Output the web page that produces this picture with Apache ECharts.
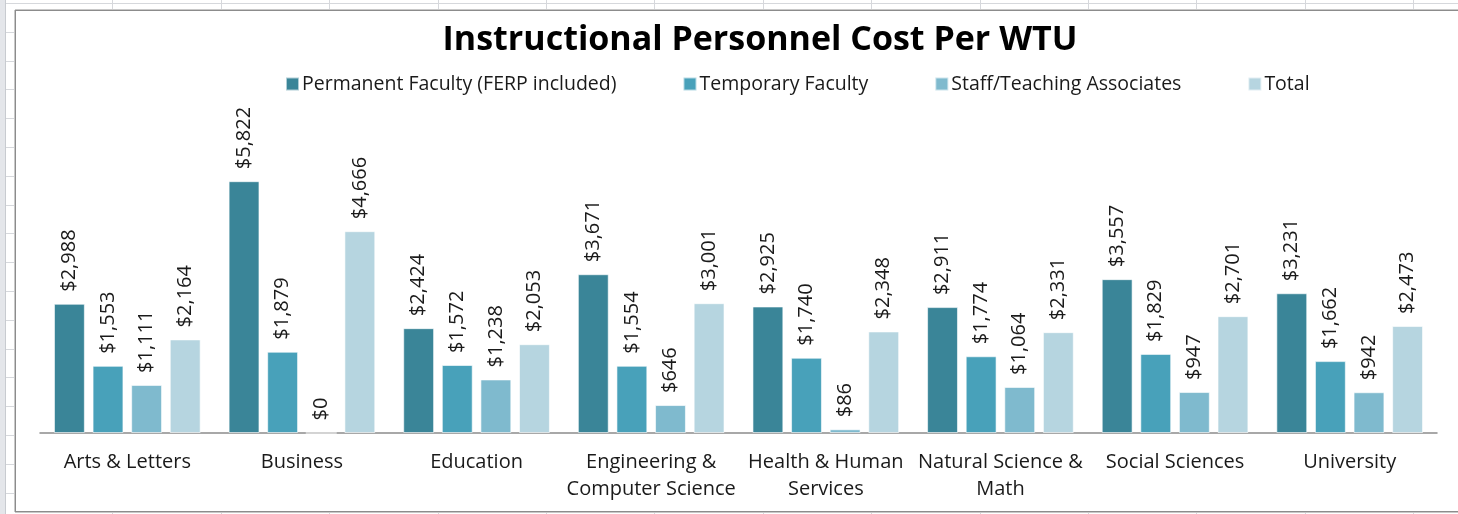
<!DOCTYPE html>
<html>
<head>
<meta charset="utf-8">
<script src="https://cdn.jsdelivr.net/npm/echarts@6/dist/echarts.min.js"></script>
<style>
  html, body { margin: 0; padding: 0; width: 1458px; height: 514px; overflow: hidden; }
  body {
    background-color: #ffffff;
    background-image:
      repeating-linear-gradient(to right, transparent 0, transparent 4px, #d6d8dc 4px, #d6d8dc 5px, transparent 5px, transparent 108.4px),
      repeating-linear-gradient(to bottom, transparent 0, transparent 3px, #d6d8dc 3px, #d6d8dc 4px, transparent 4px, transparent 28.8px);
  }
  #strip { position: absolute; left: 0; top: 0; width: 5px; height: 514px; background: #e4e6ea; border-right: 1px solid #c8cbd0; }
  #frame { position: absolute; left: 15px; top: 10px; width: 1460px; height: 500px; background: #fff; border: 1px solid #8c8c8c; box-shadow: 0 -1px 0 #c8c8c8, -1px 0 0 #c8c8c8, 0 1px 0 #c8c8c8; }
  #chart { position: absolute; left: 0; top: 0; width: 1458px; height: 514px; }
</style>
</head>
<body>
<div id="strip"></div>
<div id="frame"></div>
<div id="chart"></div>
<script>
const categories = ['Arts & Letters', 'Business', 'Education', 'Engineering &\nComputer Science', 'Health & Human\nServices', 'Natural Science &\nMath', 'Social Sciences', 'University'];
const seriesNames = ['Permanent Faculty (FERP included)', 'Temporary Faculty', 'Staff/Teaching Associates', 'Total'];
const permanentFaculty = [2988, 5822, 2424, 3671, 2925, 2911, 3557, 3231];
const temporaryFaculty = [1553, 1879, 1572, 1554, 1740, 1774, 1829, 1662];
const staffTA = [1111, 0, 1238, 646, 86, 1064, 947, 942];
const total = [2164, 4666, 2053, 3001, 2348, 2331, 2701, 2473];
const colors = ['#3a8598', '#48a1ba', '#7fbace', '#b6d5e0'];
const FONT = '"Open Sans", sans-serif';

const chart = echarts.init(document.getElementById('chart'), null, { renderer: 'canvas' });
const fmt = p => '$' + p.value.toLocaleString('en-US');
const allData = [permanentFaculty, temporaryFaculty, staffTA, total];
const series = allData.map((d, i) => ({
  name: seriesNames[i],
  type: 'bar',
  data: d,
  barGap: '25%',
  barCategoryGap: '16%',
  itemStyle: { color: colors[i], borderColor: 'rgba(255,255,255,0.6)', borderWidth: 1 },
  label: {
    show: true,
    position: 'top',
    rotate: 90,
    align: 'left',
    verticalAlign: 'middle',
    distance: 12,
    formatter: fmt,
    fontFamily: FONT,
    fontSize: 20,
    color: '#1a1a1a'
  }
}));

chart.setOption({
  animation: false,
  backgroundColor: 'transparent',
  title: {
    text: 'Instructional Personnel Cost Per WTU',
    left: 755,
    textAlign: 'center',
    top: 18,
    textStyle: { fontFamily: FONT, fontWeight: 'bold', fontSize: 34, color: '#000' }
  },
  legend: {
    top: 69,
    left: 280,
    itemWidth: 13,
    itemHeight: 13,
    itemGap: 66,
    icon: 'rect',
    textStyle: { fontFamily: FONT, fontSize: 19.5, color: '#1a1a1a', padding: [0, 0, 0, -2] },
    data: seriesNames
  },
  grid: { left: 40, right: 21, top: 87, bottom: 81, containLabel: false },
  xAxis: {
    type: 'category',
    data: categories,
    axisLine: { lineStyle: { color: '#8c8c8c', width: 1.5 } },
    axisTick: { show: false },
    axisLabel: { fontFamily: FONT, fontSize: 20, color: '#1a1a1a', margin: 16, lineHeight: 27, interval: 0 }
  },
  yAxis: {
    type: 'value',
    min: 0,
    max: 8000,
    show: false,
    splitLine: { show: false }
  },
  series: series
});
</script>
</body>
</html>
